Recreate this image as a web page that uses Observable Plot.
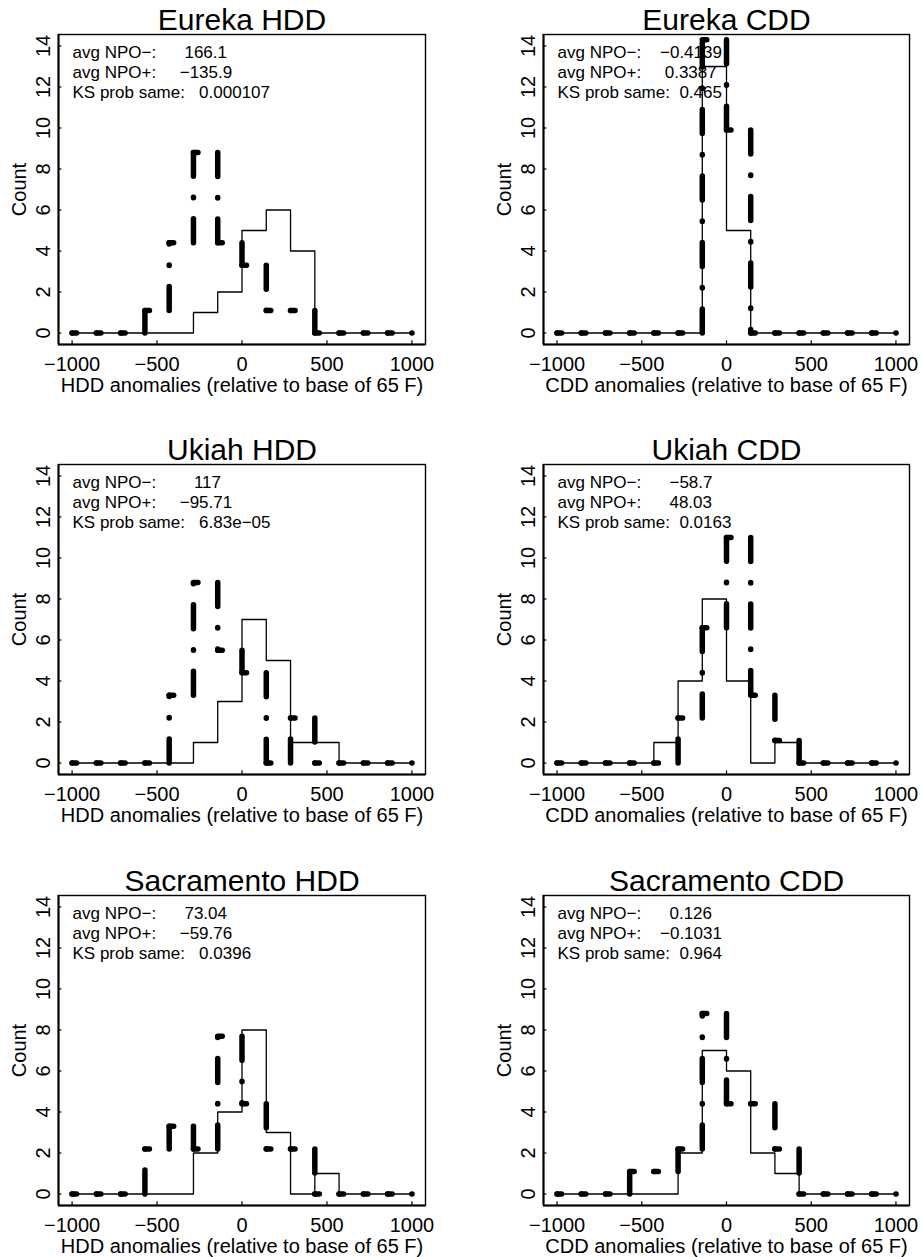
<!DOCTYPE html>
<html>
<head>
<meta charset="utf-8">
<script src="https://cdn.jsdelivr.net/npm/d3@7"></script>
<script src="https://cdn.jsdelivr.net/npm/@observablehq/plot@0.6"></script>
<style>
  html, body { margin: 0; padding: 0; background: #fff; }
  #fig { position: relative; width: 922px; height: 1257px; overflow: hidden; background: #fff; }
  #fig svg { position: absolute; overflow: visible; }
</style>
</head>
<body>
<div id="fig"></div>
<script>
// Panels, row by row: station and degree-day index
const stations = ["Eureka", "Eureka", "Ukiah", "Ukiah", "Sacramento", "Sacramento"];
const indices  = ["HDD", "CDD", "HDD", "CDD", "HDD", "CDD"];

// Histogram bin breaks (14 bins over -1000..1000)
const breaks = [-1000, -857.1, -714.3, -571.4, -428.6, -285.7, -142.9, 0,
                142.9, 285.7, 428.6, 571.4, 714.3, 857.1, 1000];

// Counts per bin, NPO- years (solid line)
const countsNpoMinus = [
  [0, 0, 0, 0, 0, 1, 2, 5, 6, 4, 0, 0, 0, 0],
  [0, 0, 0, 0, 0, 0, 13, 5, 0, 0, 0, 0, 0, 0],
  [0, 0, 0, 0, 0, 1, 3, 7, 5, 1, 1, 0, 0, 0],
  [0, 0, 0, 0, 1, 4, 8, 4, 0, 1, 0, 0, 0, 0],
  [0, 0, 0, 0, 0, 2, 4, 8, 3, 0, 1, 0, 0, 0],
  [0, 0, 0, 0, 0, 2, 7, 6, 2, 1, 0, 0, 0, 0]
];

// Rescaled counts per bin, NPO+ years (thick dot-dash line)
const countsNpoPlus = [
  [0, 0, 0, 1.1, 4.4, 8.8, 4.4, 3.3, 1.1, 1.1, 0, 0, 0, 0],
  [0, 0, 0, 0, 0, 0, 14.3, 9.9, 0, 0, 0, 0, 0, 0],
  [0, 0, 0, 0, 3.3, 8.8, 5.5, 4.4, 0, 2.2, 0, 0, 0, 0],
  [0, 0, 0, 0, 0, 2.2, 6.6, 11, 3.3, 1.1, 0, 0, 0, 0],
  [0, 0, 0, 2.2, 3.3, 2.2, 7.7, 4.4, 2.2, 2.2, 0, 0, 0, 0],
  [0, 0, 0, 1.1, 1.1, 2.2, 8.8, 4.4, 4.4, 2.2, 0, 0, 0, 0]
];

// Summary statistics printed in each panel
const avgNpoMinus = ["166.1", "\u22120.4139", "117", "\u221258.7", "73.04", "0.126"];
const avgNpoPlus  = ["\u2212135.9", "0.3387", "\u221295.71", "48.03", "\u221259.76", "\u22120.1031"];
const ksProbSame  = ["0.000107", "0.465", "6.83e\u221205", "0.0163", "0.0396", "0.964"];

const xTicks = [-1000, -500, 0, 500, 1000];
const yTicks = [0, 2, 4, 6, 8, 10, 12, 14];

// Layout
const xDom = [-1080, 1080];
const yDom = [-0.56, 14.56];
const rowTops = [0, 430, 861];
const font = "'Liberation Sans', Arial, Helvetica, sans-serif";
const NB = "\u00a0";

const minusFmt = d => d < 0 ? "\u2212" + Math.abs(d) : String(d);
const padLeft = (s, n) => NB.repeat(Math.max(0, n - s.length)) + s;

// Each bin is stroked on its own, as are the risers between bins
function stepSegments(h) {
  const horiz = [], vert = [];
  vert.push({x1: breaks[0], x2: breaks[0], y1: 0, y2: h[0]});
  h.forEach((v, k) => {
    horiz.push({x1: breaks[k], x2: breaks[k + 1], y1: v, y2: v});
    const next = k + 1 < h.length ? h[k + 1] : 0;
    vert.push({x1: breaks[k + 1], x2: breaks[k + 1], y1: v, y2: next});
  });
  return {horiz, vert};
}

function panel(i) {
  const col = i % 2;
  const row = Math.floor(i / 2);
  const neg = countsNpoMinus[i];
  const solid = breaks.map((b, k) => ({x: b, y: k < neg.length ? neg[k] : 0}));
  const {horiz, vert} = stepSegments(countsNpoPlus[i]);
  const kind = indices[i];
  const lines = [
    "avg NPO\u2212:" + padLeft(avgNpoMinus[i], 11),
    "avg NPO+:" + padLeft(avgNpoPlus[i], 11),
    "KS prob same:" + NB.repeat(kind === "HDD" ? 3 : 2) + ksProbSame[i]
  ];

  const svg = Plot.plot({
    width: 461,
    height: 396,
    marginTop: 34,
    marginBottom: 52,
    marginLeft: col === 0 ? 58 : 82,
    marginRight: col === 0 ? 36 : 13,
    x: {domain: xDom, axis: null},
    y: {domain: yDom, axis: null},
    style: {fontFamily: font, background: "white", color: "black", overflow: "visible"},
    marks: [
      // inward tick marks
      Plot.ruleX(xTicks, {x: d => d, y1: yDom[0], y2: yDom[0] + 0.18, stroke: "black", strokeWidth: 1.2}),
      Plot.ruleY(yTicks, {y: d => d, x1: xDom[0], x2: xDom[0] + 20, stroke: "black", strokeWidth: 1.2}),
      // NPO- histogram outline
      Plot.line(solid, {x: "x", y: "y", curve: "step-after", stroke: "black", strokeWidth: 1.3}),
      // NPO+ histogram outline, dot-dash
      Plot.link(horiz, {x1: "x1", y1: "y1", x2: "x2", y2: "y2", stroke: "black", strokeWidth: 5.5,
        strokeLinecap: "round", strokeDasharray: "4.5 60"}),
      Plot.link(vert, {x1: "x1", y1: "y1", x2: "x2", y2: "y2", stroke: "black", strokeWidth: 5.5,
        strokeLinecap: "round", strokeDasharray: "24 21 0.5 21"}),
      // box
      Plot.frame({stroke: "black", strokeWidth: 1.4}),
      Plot.ruleY([yDom[0]], {stroke: "black", strokeWidth: 2.2}),
      Plot.ruleX([xDom[0]], {stroke: "black", strokeWidth: 2}),
      // statistics
      ...lines.map((t, k) => Plot.text([t], {frameAnchor: "top-left", dx: 14, dy: 23.3 + 20 * k,
        lineAnchor: "bottom", textAnchor: "start", fontSize: 17, fill: "black"})),
      // title
      Plot.text([`${stations[i]} ${kind}`], {frameAnchor: "top", dy: -4.7, lineAnchor: "bottom",
        fontSize: 30, fill: "black"}),
      // x tick labels and axis title
      Plot.text(xTicks, {x: d => d, text: minusFmt, frameAnchor: "bottom", dy: 26,
        lineAnchor: "bottom", fontSize: 20, fill: "black"}),
      Plot.text([`${kind} anomalies (relative to base of 65 F)`], {frameAnchor: "bottom", dy: 47,
        lineAnchor: "bottom", fontSize: 20, fill: "black"}),
      // y tick labels and axis title
      Plot.text(yTicks, {y: d => d, text: d => String(d), frameAnchor: "left", dx: -9, rotate: -90,
        textAnchor: "middle", lineAnchor: "bottom", fontSize: 20, fill: "black"}),
      Plot.text(["Count"], {frameAnchor: "left", dx: -32.5, rotate: -90, textAnchor: "middle",
        lineAnchor: "bottom", fontSize: 20, fill: "black"})
    ]
  });
  svg.style.left = (col * 461) + "px";
  svg.style.top = rowTops[row] + "px";
  return svg;
}

const fig = document.getElementById("fig");
for (let i = 0; i < 6; ++i) fig.appendChild(panel(i));
</script>
</body>
</html>
